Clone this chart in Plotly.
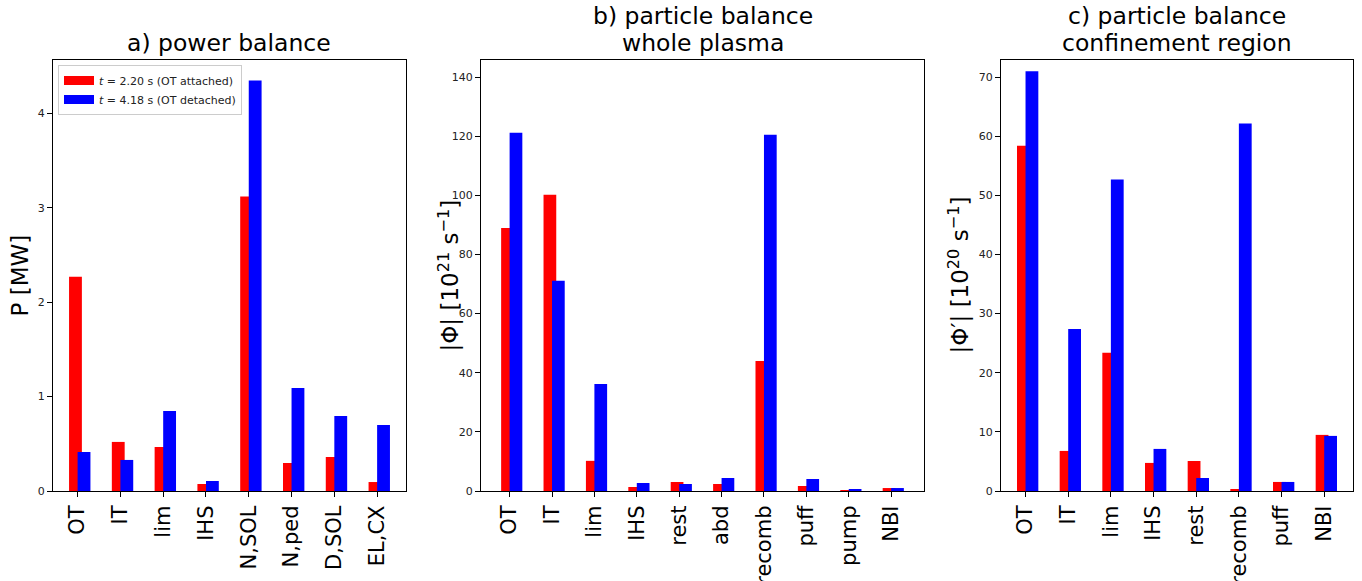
import plotly.graph_objects as go

# ---- data -------------------------------------------------------------
power_cats = ["OT", "IT", "lim", "IHS", "N,SOL", "N,ped", "D,SOL", "EL,CX"]
power_attached = [2.27, 0.52, 0.466, 0.074, 3.12, 0.297, 0.36, 0.095]
power_detached = [0.413, 0.329, 0.848, 0.106, 4.35, 1.092, 0.795, 0.70]

whole_cats = ["OT", "IT", "lim", "IHS", "rest", "abd", "recomb", "puff", "pump", "NBI"]
whole_attached = [89.0, 100.2, 10.2, 1.35, 3.05, 2.37, 44.0, 1.7, 0.05, 1.0]
whole_detached = [121.2, 71.1, 36.2, 2.7, 2.37, 4.4, 120.5, 4.06, 0.68, 1.0]

conf_cats = ["OT", "IT", "lim", "IHS", "rest", "recomb", "puff", "NBI"]
conf_attached = [58.4, 6.78, 23.4, 4.75, 5.08, 0.34, 1.53, 9.49]
conf_detached = [71.0, 27.4, 52.7, 7.12, 2.2, 62.15, 1.53, 9.32]

label_attached = "<i>t</i> = 2.20 s (OT attached)"
label_detached = "<i>t</i> = 4.18 s (OT detached)"

# ---- layout constants ---------------------------------------------------
W, H = 1362, 581
FONT = "DejaVu Sans"
RED, BLUE = "#ff0000", "#0000ff"
BAR_W = 0.3
RED_OFF = -0.2
TITLE_SIZE = 23.5
TITLE_LINE = 26.5

panels = [
    dict(cats=power_cats, a=power_attached, d=power_detached,
         px=(53, 406), ymax=4.566, dtick=1, ylab_x=20,
         title=["a) power balance"], ylabel="P [MW]"),
    dict(cats=whole_cats, a=whole_attached, d=whole_detached,
         px=(481, 924), ymax=145.8, dtick=20, ylab_x=449,
         title=["b) particle balance", "whole plasma"],
         ylabel="|Φ| [10<sup>21</sup> s<sup>−1</sup>]"),
    dict(cats=conf_cats, a=conf_attached, d=conf_detached,
         px=(1001, 1353), ymax=72.9, dtick=10, ylab_x=959,
         title=["c) particle balance", "confinement region"],
         ylabel="|Φ′| [10<sup>20</sup> s<sup>−1</sup>]"),
]

y_top_px, y_bot_px = 60, 491
ydom = [(H - y_bot_px) / H, (H - y_top_px) / H]

fig = go.Figure()
annotations = []

for i, p in enumerate(panels):
    n = len(p["cats"])
    xs = list(range(n))
    ax = "" if i == 0 else str(i + 1)
    xref, yref = "x" + ax, "y" + ax

    fig.add_trace(go.Bar(x=xs, y=p["a"], width=BAR_W, offset=RED_OFF,
                         marker=dict(color=RED, line=dict(width=0)),
                         showlegend=False, xaxis=xref, yaxis=yref))
    fig.add_trace(go.Bar(x=xs, y=p["d"], width=BAR_W, offset=0,
                         marker=dict(color=BLUE, line=dict(width=0)),
                         showlegend=False, xaxis=xref, yaxis=yref))

    # x range: bar extent plus 5% padding each side
    lo, hi = RED_OFF, (n - 1) + BAR_W
    pad = 0.05 * (hi - lo)
    xdom = [p["px"][0] / W, p["px"][1] / W]

    fig.layout["xaxis" + ax] = dict(
        domain=xdom, anchor=yref, range=[lo - pad, hi + pad], automargin=False,
        tickmode="array", tickvals=xs, ticktext=p["cats"], tickangle=-90,
        tickfont=dict(size=21, color="black", family=FONT),
        ticks="outside", ticklen=5, tickcolor="black",
        showline=True, linecolor="black", linewidth=1.2, mirror=True,
        showgrid=False, zeroline=False, fixedrange=True,
    )
    fig.layout["yaxis" + ax] = dict(
        domain=ydom, anchor=xref, range=[0, p["ymax"]], automargin=False,
        tick0=0, dtick=p["dtick"],
        tickfont=dict(size=11, color="#222", family=FONT),
        ticks="outside", ticklen=5, tickcolor="black",
        showline=True, linecolor="black", linewidth=1.2, mirror=True,
        showgrid=False, zeroline=False,
    )

    # y-axis label, rotated
    annotations.append(dict(
        text=p["ylabel"], xref="paper", yref="paper",
        x=p["ylab_x"] / W, y=(ydom[0] + ydom[1]) / 2,
        xanchor="center", yanchor="middle", textangle=-90, showarrow=False,
        font=dict(size=23, color="black", family=FONT),
    ))

    # panel title, one annotation per line stacked upward from the frame
    for k, line in enumerate(reversed(p["title"])):
        annotations.append(dict(
            text=line, xref="paper", yref="paper",
            x=(xdom[0] + xdom[1]) / 2,
            y=ydom[1] + (1 + k * TITLE_LINE) / H,
            xanchor="center", yanchor="bottom", showarrow=False,
            font=dict(size=TITLE_SIZE, color="black", family=FONT),
        ))

# legend entries drawn as thick line swatches
fig.add_trace(go.Scatter(x=[None], y=[None], mode="lines", name=label_attached,
                         line=dict(color=RED, width=9), xaxis="x", yaxis="y"))
fig.add_trace(go.Scatter(x=[None], y=[None], mode="lines", name=label_detached,
                         line=dict(color=BLUE, width=9), xaxis="x", yaxis="y"))

fig.update_layout(
    width=W, height=H,
    margin=dict(l=0, r=0, t=0, b=0, autoexpand=False),
    paper_bgcolor="white", plot_bgcolor="white",
    font=dict(family=FONT, color="black"),
    barmode="overlay",
    annotations=annotations,
    legend=dict(x=58 / W, y=1 - 65 / H, xanchor="left", yanchor="top",
                bgcolor="white", bordercolor="#cccccc", borderwidth=1,
                font=dict(size=11, family=FONT, color="#222"),
                itemwidth=30, tracegroupgap=0),
)

fig.write_html("out.html")
